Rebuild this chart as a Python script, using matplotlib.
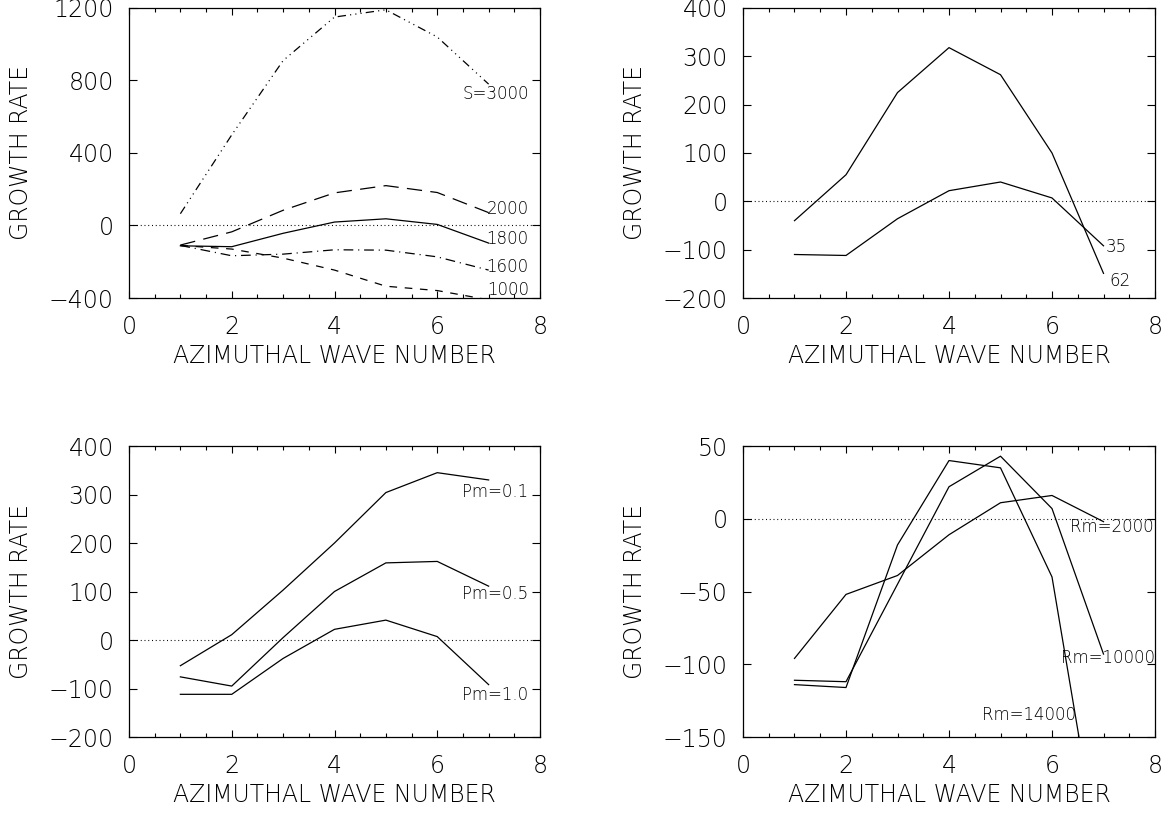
import numpy as np
import matplotlib
matplotlib.use("Agg")
import matplotlib.pyplot as plt
from matplotlib.ticker import MultipleLocator

plt.rcParams['font.family'] = ['DejaVu Sans']
plt.rcParams['font.weight'] = 'light'
plt.rcParams['axes.labelweight'] = 'light'
plt.rcParams['lines.scale_dashes'] = False
plt.rcParams['axes.unicode_minus'] = True

# azimuthal wave numbers
m = [1, 2, 3, 4, 5, 6, 7]

# panel (a): varying S
s_labels = ["S=3000", "2000", "1800", "1600", "1000"]
s3000 = [65, 500, 910, 1150, 1190, 1040, 780]
s2000 = [-108, -35, 84, 180, 220, 182, 71]
s1800 = [-112, -117, -43, 19, 37, 6, -97]
s1600 = [-110, -167, -158, -134, -136, -173, -246]
s1000 = [-110, -130, -180, -246, -335, -359, -410]

# panel (b): two parameter values
b_labels = ["35", "62"]
b35 = [-110, -112, -36, 22, 40, 7, -92]
b62 = [-40, 55, 225, 318, 262, 100, -149]

# panel (c): magnetic Prandtl number
pm_labels = ["Pm=0.1", "Pm=0.5", "Pm=1.0"]
pm01 = [-53, 11, 103, 200, 304, 345, 330]
pm05 = [-76, -95, 5, 100, 159, 162, 111]
pm10 = [-112, -112, -38, 22, 41, 7, -92]

# panel (d): magnetic Reynolds number
rm_labels = ["Rm=2000", "Rm=10000", "Rm=14000"]
rm2000 = [-96, -52, -39, -11, 11, 16, -2]
rm10000 = [-111, -112, -45, 22, 43, 7, -93]
rm14000 = [-114, -116, -18, 40, 35, -40, -250]

FS = 17
LFS = 12
LW = 0.9

fig = plt.figure(figsize=(11.73, 8.13), dpi=100)
W, H = 1173.0, 813.0


def make_axes(left, top, right, bottom):
    return fig.add_axes([left / W, 1 - bottom / H, (right - left) / W, (bottom - top) / H])


def style(ax, ylim, ystep):
    ax.set_xlim(0, 8)
    ax.set_ylim(*ylim)
    ax.xaxis.set_major_locator(MultipleLocator(2))
    ax.xaxis.set_minor_locator(MultipleLocator(0.5))
    ax.yaxis.set_major_locator(MultipleLocator(ystep))
    ax.tick_params(axis='both', which='both', direction='in', top=True, right=True,
                   width=0.8, colors='black', labelsize=FS)
    ax.tick_params(axis='x', which='major', length=5, pad=12)
    ax.tick_params(axis='x', which='minor', length=2.6)
    ax.tick_params(axis='y', which='major', length=5.5, pad=11)
    for sp in ax.spines.values():
        sp.set_linewidth(0.9)
    ax.axhline(0, color='black', lw=0.8, linestyle=(0, (0.7, 2.0)))
    ax.set_xlabel("AZIMUTHAL WAVE NUMBER", fontsize=FS, fontweight='light')
    ax.set_ylabel("GROWTH RATE", fontsize=FS, fontweight='light')
    ax.xaxis.set_label_coords(0.5, -58 / 290)
    ax.xaxis.label.set_va('center')
    ax.yaxis.set_label_coords(-108 / 411, 0.5)
    ax.yaxis.label.set_va('center')


DASHDOT3 = (0, (6, 3, 0.8, 3, 0.8, 3, 0.8, 3))
LONGDASH = (0, (11, 6))
DASHDOT = (0, (7, 3.5, 0.8, 3.5))
DASH = (0, (5.5, 5.5))

# panel (a)
ax1 = make_axes(129, 8, 540, 298)
style(ax1, (-400, 1200), 400)
for vals, ls in zip([s3000, s2000, s1800, s1600, s1000],
                    [DASHDOT3, LONGDASH, '-', DASHDOT, DASH]):
    ax1.plot(m, vals, color='black', lw=LW, linestyle=ls)
for txt, y in zip(s_labels, [724, 93, -74, -229, -357]):
    ax1.text(7.78, y, txt, ha='right', va='center', fontsize=LFS)

# panel (b)
ax2 = make_axes(743, 8, 1155, 298)
style(ax2, (-200, 400), 100)
ax2.plot(m, b35, color='black', lw=LW)
ax2.plot(m, b62, color='black', lw=LW)
ax2.text(7.04, -95, b_labels[0], ha='left', va='center', fontsize=LFS)
ax2.text(7.11, -165, b_labels[1], ha='left', va='center', fontsize=LFS)

# panel (c)
ax3 = make_axes(129, 446, 540, 737)
style(ax3, (-200, 400), 100)
for vals in [pm01, pm05, pm10]:
    ax3.plot(m, vals, color='black', lw=LW)
for txt, y in zip(pm_labels, [305, 95, -114]):
    ax3.text(7.77, y, txt, ha='right', va='center', fontsize=LFS)

# panel (d)
ax4 = make_axes(743, 446, 1155, 737)
style(ax4, (-150, 50), 50)
for vals in [rm2000, rm10000, rm14000]:
    ax4.plot(m, vals, color='black', lw=LW)
ax4.text(7.98, -6, rm_labels[0], ha='right', va='center', fontsize=LFS, clip_on=False)
ax4.text(8.0, -96, rm_labels[1], ha='right', va='center', fontsize=LFS, clip_on=False)
ax4.text(6.47, -135, rm_labels[2], ha='right', va='center', fontsize=LFS)

fig.savefig("out.png", dpi=100)
